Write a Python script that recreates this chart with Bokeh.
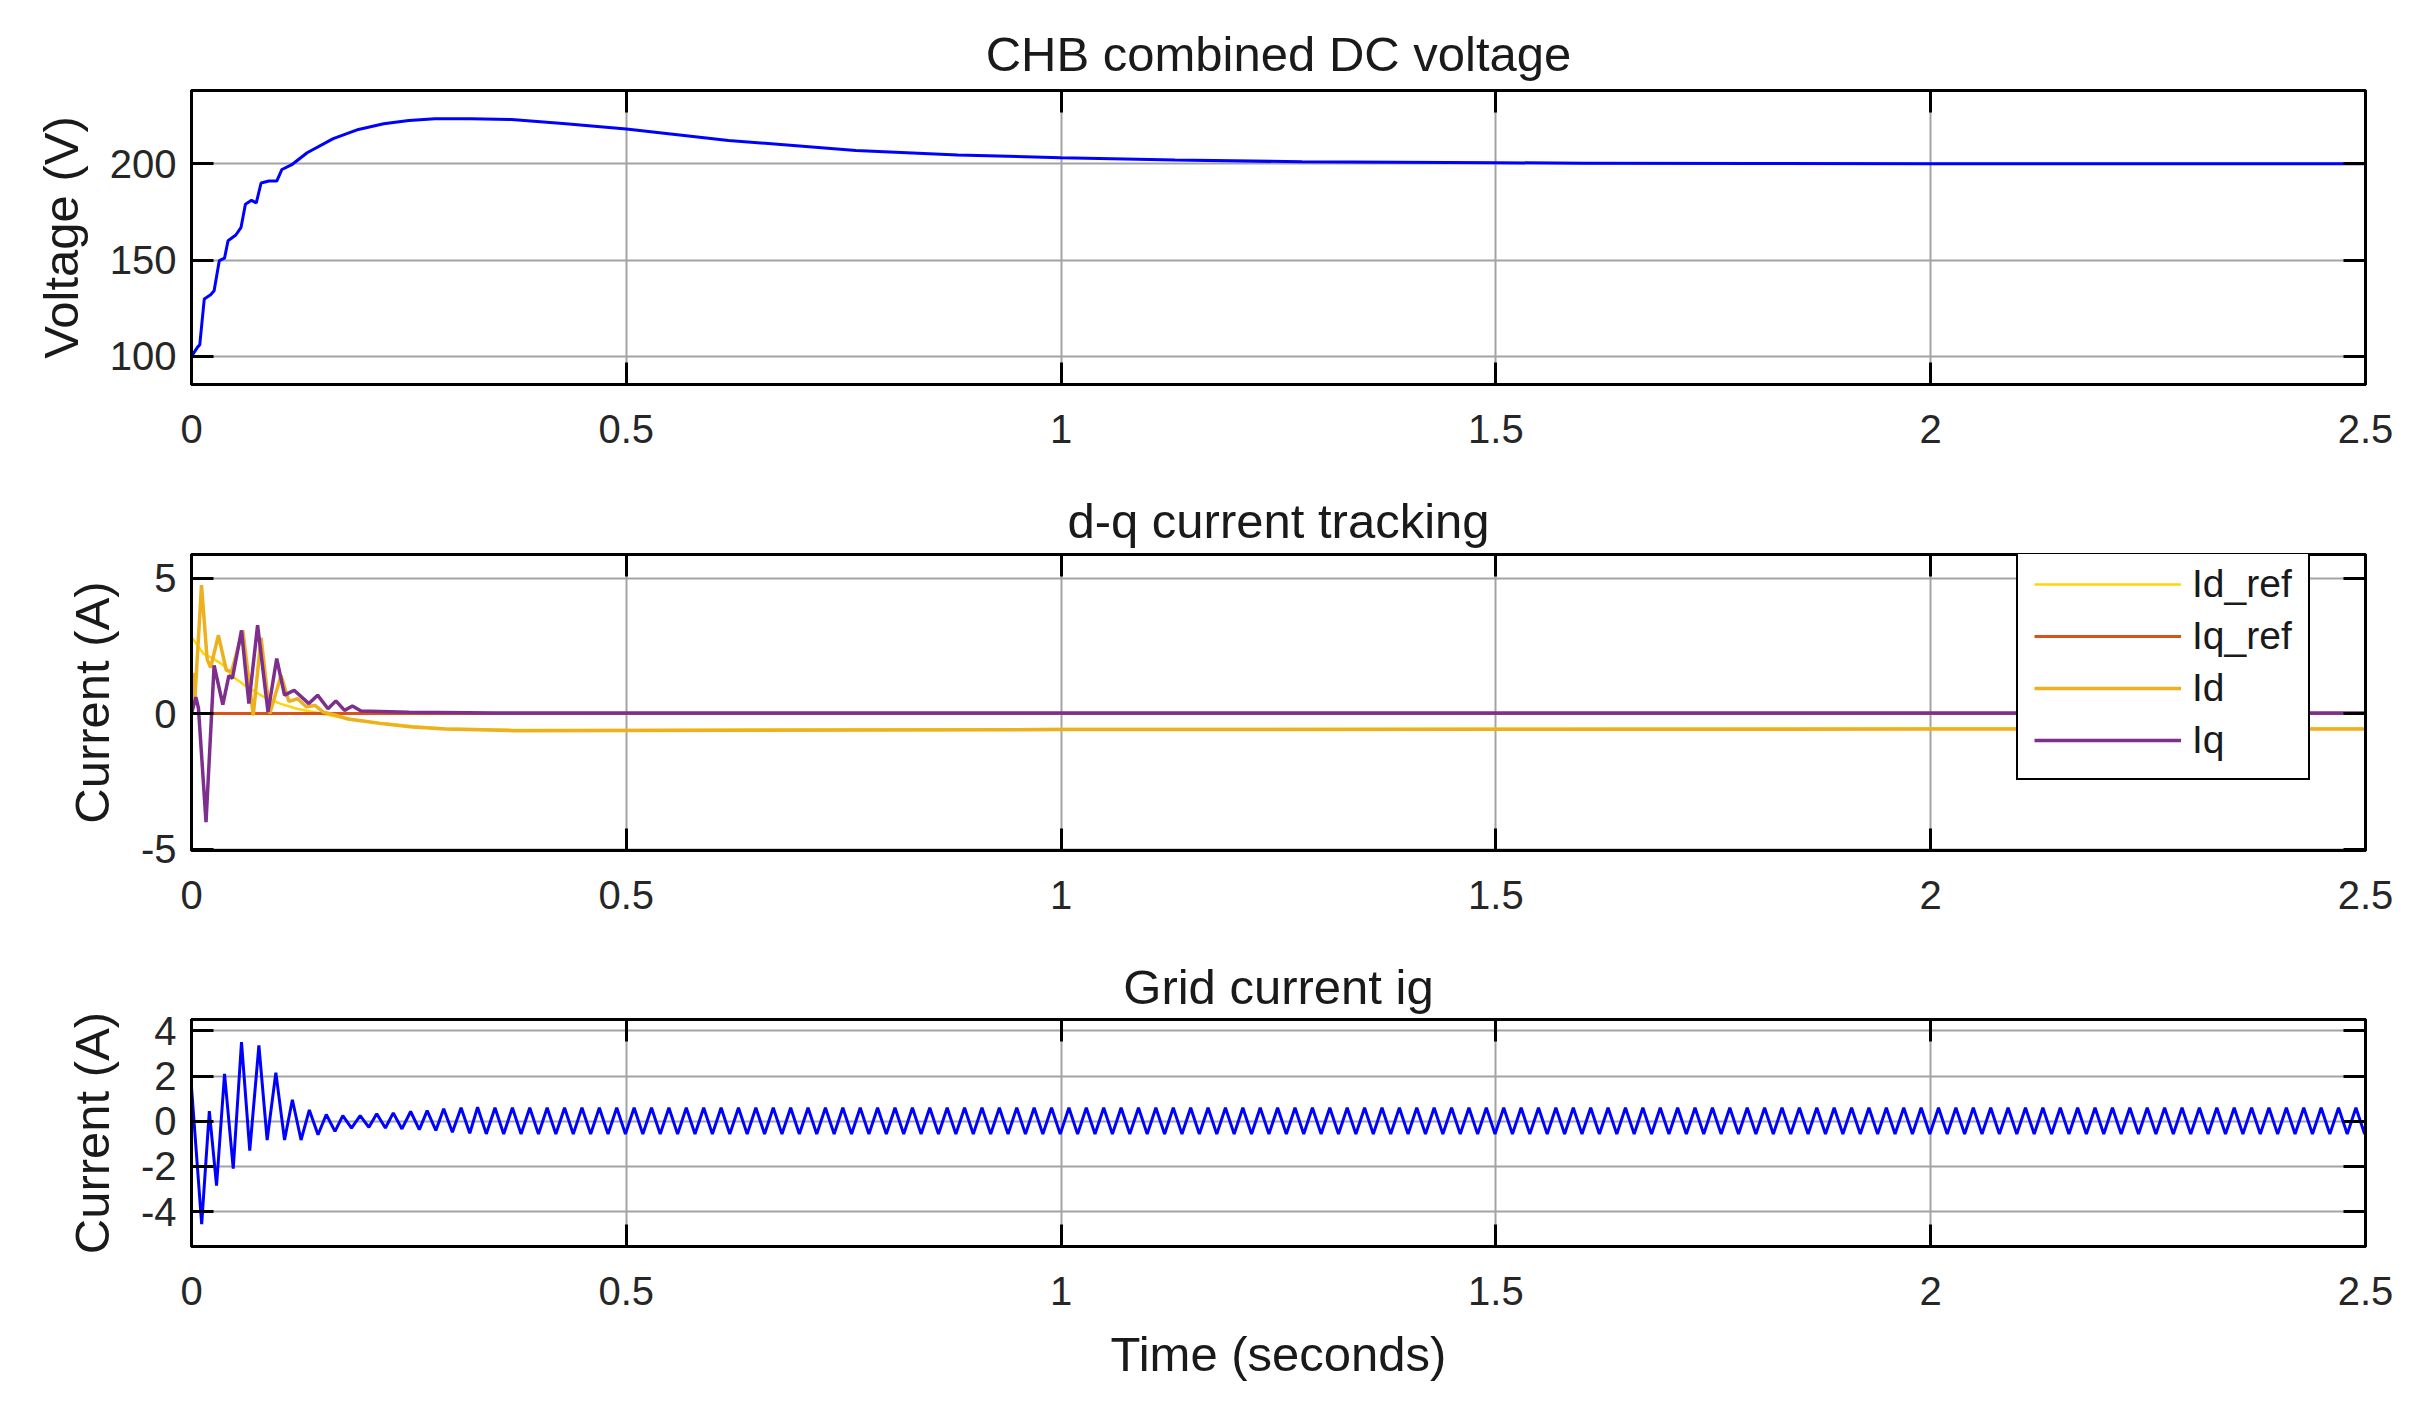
import numpy as np
from bokeh.plotting import figure
from bokeh.layouts import column
from bokeh.models import Range1d, FixedTicker, LinearAxis
from bokeh.embed import file_html
from bokeh.resources import INLINE

FONT = "Liberation Sans"

# ---------------- data ----------------
x_ticks = [0, 0.5, 1, 1.5, 2, 2.5]
x_tick_labels = ["0", "0.5", "1", "1.5", "2", "2.5"]

# Panel 1: CHB combined DC voltage
vdc_ticks = [100, 150, 200]
vdc_t = [0, 0.007, 0.0095, 0.0147, 0.022, 0.026, 0.032, 0.038, 0.042, 0.051, 0.057,
         0.062, 0.069, 0.0745, 0.080, 0.089, 0.098, 0.104, 0.116, 0.133, 0.163, 0.192,
         0.221, 0.25, 0.28, 0.321, 0.368, 0.427, 0.5, 0.6175, 0.764, 0.881, 1.0, 1.131,
         1.277, 1.5, 1.6, 1.8, 2.0, 2.5]
vdc_v = [100, 104.8, 106, 129.8, 132, 134, 149.7, 151, 160, 163, 167,
         179, 181, 179.7, 190, 191, 191, 197, 199.7, 205.7, 213, 217.8,
         220.7, 222.4, 223.3, 223.4, 222.9, 220.9, 218.0, 212.1, 206.9, 204.5, 203.1, 201.9,
         201.0, 200.5, 200.3, 200.1, 200.0, 200.0]

# Panel 2: d-q current tracking
idq_ticks = [-5, 0, 5]
idref_t = [0, 0.005, 0.014, 0.025, 0.037, 0.048, 0.064, 0.083, 0.102, 0.121, 0.14, 0.159,
           0.178, 0.216, 0.254, 0.292, 0.37, 0.5, 1.0, 1.5, 2.0, 2.5]
idref_v = [2.83, 2.6, 2.2, 2.03, 1.78, 1.35, 0.98, 0.62, 0.37, 0.18, 0.06, -0.06,
           -0.18, -0.34, -0.47, -0.55, -0.6, -0.6, -0.57, -0.56, -0.55, -0.55]

iqref_t = [0, 2.5]
iqref_v = [0, 0]

id_t = [0, 0.0015, 0.004, 0.0115, 0.018, 0.022, 0.031, 0.04, 0.046, 0.059, 0.071, 0.08,
        0.09, 0.103, 0.112, 0.122, 0.132, 0.142, 0.152, 0.165, 0.18, 0.216, 0.254, 0.292,
        0.37, 0.5, 1.0, 1.5, 2.0, 2.5]
id_v = [0, 1.5, 0.6, 4.74, 2.0, 1.7, 2.89, 1.6, 1.55, 3.07, -0.06, 2.8,
        0.0, 1.41, 0.45, 0.55, 0.25, 0.3, 0.05, -0.05, -0.2, -0.36, -0.49, -0.57,
        -0.63, -0.62, -0.59, -0.58, -0.57, -0.57]

iq_t = [0, 0.005, 0.008, 0.0167, 0.026, 0.036, 0.043, 0.047, 0.0575, 0.066, 0.076, 0.088,
        0.098, 0.107, 0.118, 0.135, 0.145, 0.157, 0.166, 0.176, 0.185, 0.195, 0.25, 0.35, 2.5]
iq_v = [0, 0.61, 0.2, -4.0, 1.78, 0.33, 1.4, 1.3, 3.07, 0.37, 3.26, 0.06,
        2.03, 0.68, 0.86, 0.37, 0.68, 0.18, 0.47, 0.12, 0.28, 0.1, 0.05, 0.02, 0.02]

# Panel 3: grid current ig (extrema of the transient, then steady 50 Hz peaks/troughs)
ig_ticks = [-4, -2, 0, 2, 4]
ig_t_early = [0, 0.0117, 0.0205, 0.0288, 0.038, 0.048, 0.0575, 0.067, 0.0775, 0.087, 0.097,
              0.107, 0.116, 0.126, 0.1355, 0.1455, 0.155, 0.165, 0.174, 0.184, 0.194, 0.204,
              0.213, 0.223, 0.232, 0.242, 0.252, 0.262, 0.271, 0.281, 0.290, 0.300, 0.310,
              0.320, 0.329, 0.339]
ig_early = [1.5, -4.55, 0.45, -2.85, 2.1, -2.1, 3.5, -1.3, 3.35, -0.83, 2.15,
            -0.83, 0.95, -0.83, 0.5, -0.6, 0.3, -0.45, 0.25, -0.3, 0.25, -0.27,
            0.33, -0.3, 0.37, -0.34, 0.43, -0.37, 0.47, -0.41, 0.55, -0.49, 0.6,
            -0.53, 0.62, -0.56]
ig_ss_peak = 0.6
ig_ss_trough = -0.57
ig_half_period = 0.01  # 50 Hz, 125 cycles counted over 2.5 s

ig_t = list(ig_t_early)
ig_v = list(ig_early)
t = ig_t_early[-1] + ig_half_period
k = 0
while t <= 2.5 + 1e-9:
    ig_t.append(round(t, 4))
    ig_v.append(ig_ss_peak if k % 2 == 0 else ig_ss_trough)
    t += ig_half_period
    k += 1

# ---------------- styling helpers ----------------
GRID = "#a3a3a3"
TICK_LBL = "#262626"


def style_axis(ax):
    ax.major_label_text_font = FONT
    ax.major_label_text_font_size = "40px"
    ax.major_label_text_color = TICK_LBL
    ax.axis_label_text_font = FONT
    ax.axis_label_text_font_size = "49px"
    ax.axis_label_text_font_style = "normal"
    ax.axis_label_text_color = "#1a1a1a"
    ax.major_tick_in = 22
    ax.major_tick_out = 0
    ax.major_tick_line_width = 3
    ax.major_tick_line_color = "black"
    ax.minor_tick_line_color = None
    ax.axis_line_width = 3
    ax.axis_line_color = "black"


def make_fig(height, top, bottom, yr, yticks, title, ylabel, title_standoff, xlabel=None):
    p = figure(width=2410, height=height, output_backend="svg", toolbar_location=None,
               x_range=Range1d(0, 2.5), y_range=Range1d(*yr), title=title,
               min_border_left=191, min_border_right=45,
               min_border_top=top, min_border_bottom=bottom)
    p.title.text_font = FONT
    p.title.text_font_size = "49px"
    p.title.text_font_style = "normal"
    p.title.text_color = "#1a1a1a"
    p.title.align = "center"
    p.title.standoff = title_standoff
    p.outline_line_color = "black"
    p.outline_line_width = 3
    p.background_fill_color = "white"
    p.border_fill_color = "white"

    xt = FixedTicker(ticks=x_ticks)
    yt = FixedTicker(ticks=yticks)
    p.xaxis.ticker = xt
    p.yaxis.ticker = yt
    p.xaxis.major_label_overrides = {v: s for v, s in zip(x_ticks, x_tick_labels)}
    p.yaxis.major_label_overrides = {v: str(v) for v in yticks}
    p.xaxis.major_label_standoff = 30
    p.yaxis.major_label_standoff = 15
    p.yaxis.axis_label = ylabel
    p.yaxis.axis_label_standoff = 19
    if xlabel:
        p.xaxis.axis_label = xlabel
        p.xaxis.axis_label_standoff = 19
    style_axis(p.xaxis[0])
    style_axis(p.yaxis[0])

    # mirror ticks on top and right (no labels drawn)
    ax_top = LinearAxis(ticker=FixedTicker(ticks=x_ticks))
    ax_right = LinearAxis(ticker=FixedTicker(ticks=yticks))
    for ax in (ax_top, ax_right):
        style_axis(ax)
        ax.major_label_text_font_size = "1px"
        ax.major_label_text_color = None
        ax.major_label_standoff = 0
    p.add_layout(ax_top, "above")
    p.add_layout(ax_right, "right")

    p.xgrid.ticker = xt
    p.ygrid.ticker = yt
    p.xgrid.grid_line_color = GRID
    p.ygrid.grid_line_color = GRID
    p.xgrid.grid_line_width = 2
    p.ygrid.grid_line_width = 2
    return p


# Panel 1
p1 = make_fig(470, 90, 86, (85.4, 238.0), vdc_ticks,
              "CHB combined DC voltage", "Voltage (V)", 19)
p1.line(vdc_t, vdc_v, line_color="#0000ff", line_width=3)

# Panel 2
p2 = make_fig(465, 84, 85, (-5.05, 5.87), idq_ticks,
              "d-q current tracking", "Current (A)", 13)
p2.line(idref_t, idref_v, line_color="#FFD60A", line_width=2.5, legend_label="Id_ref")
p2.line(iqref_t, iqref_v, line_color="#D95319", line_width=3, legend_label="Iq_ref")
p2.line(id_t, id_v, line_color="#EDB120", line_width=3.5, legend_label="Id")
p2.line(iq_t, iq_v, line_color="#7E2F8E", line_width=3.5, legend_label="Iq")
lg = p2.legend[0]
lg.location = (1825, 70)
lg.label_text_font = FONT
lg.label_text_font_size = "39px"
lg.label_text_color = "#1a1a1a"
lg.glyph_width = 147
lg.glyph_height = 40
lg.label_height = 40
lg.label_standoff = 11
lg.spacing = 8
lg.padding = 16
lg.margin = 0
lg.border_line_color = "black"
lg.border_line_alpha = 1
lg.border_line_width = 2.5
lg.background_fill_color = "white"
lg.background_fill_alpha = 1

# Panel 3
p3 = make_fig(462, 84, 151, (-5.54, 4.5), ig_ticks,
              "Grid current ig", "Current (A)", 12, xlabel="Time (seconds)")
p3.line(ig_t, ig_v, line_color="#0000ff", line_width=3)

layout = column(p1, p2, p3)
open("out.html", "w").write(file_html(layout, INLINE))
